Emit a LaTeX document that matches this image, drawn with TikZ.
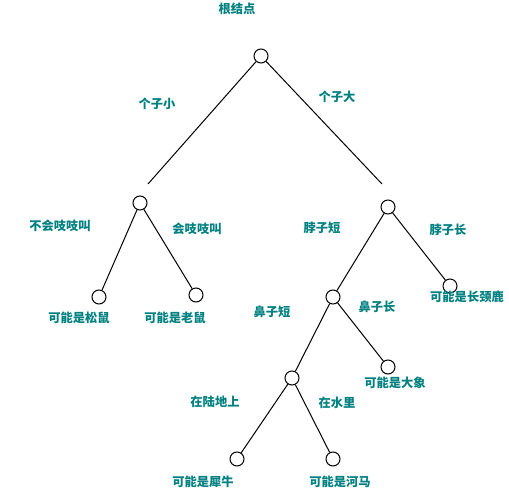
\documentclass[tikz,border=0pt]{standalone}
\usepackage{fontspec}
\newfontfamily\cjk{Noto Sans CJK SC}
\definecolor{labelteal}{RGB}{0,128,128}
\tikzset{every picture/.style={line width=0.75pt}}
\tikzset{
dnode/.style={circle,draw,inner sep=0pt,minimum size=10.5pt,line width=0.75pt},
lbl/.style={inner sep=0.75pt,color=labelteal,font=\cjk\bfseries\fontsize{9.2pt}{11pt}\selectfont}}

\begin{document}
\begin{tikzpicture}[x=0.75pt,y=0.75pt,yscale=-1,xscale=1]
\useasboundingbox (0,0) rectangle (509,498);

%Shape: Circle
\draw (261,56) node [dnode] (root) {};
\draw (140,203) node [dnode] (small) {};
\draw (388,207) node [dnode] (big) {};
\draw (99,297) node [dnode] (squirrel) {};
\draw (196,295) node [dnode] (mouse) {};
\draw (333,297) node [dnode] (shortneck) {};
\draw (450,286) node [dnode] (giraffe) {};
\draw (388,367) node [dnode] (elephant) {};
\draw (292,378) node [dnode] (shortnose) {};
\draw (237,459) node [dnode] (rhino) {};
\draw (333,459) node [dnode] (hippo) {};
\coordinate (endsmall) at (148,184);
\coordinate (endbig) at (382,184);

%Straight Lines
\draw (root) -- (endsmall);
\draw (root) -- (endbig);
\draw (small) -- (squirrel);
\draw (small) -- (mouse);
\draw (big) -- (shortneck);
\draw (big) -- (giraffe);
\draw (shortneck) -- (shortnose);
\draw (shortneck) -- (elephant);
\draw (shortnose) -- (rhino);
\draw (shortnose) -- (hippo);

% Text Node
\draw (237,9) node [lbl] (troot) {根结点};
% Text Node
\draw (157,104) node [lbl] (tsmall) {个子小};
% Text Node
\draw (337,97) node [lbl] (tbig) {个子大};
% Text Node
\draw (60,226) node [lbl] (tnosq) {不会吱吱叫};
% Text Node
\draw (197,229) node [lbl] (tsq) {会吱吱叫};
% Text Node
\draw (79,318) node [lbl] (tsquirrel) {可能是松鼠};
% Text Node
\draw (175,318) node [lbl] (tmouse) {可能是老鼠};
% Text Node
\draw (322,228) node [lbl] (tshortneck) {脖子短};
% Text Node
\draw (448,230) node [lbl] (tlongneck) {脖子长};
% Text Node
\draw (467,297) node [lbl] (tgiraffe) {可能是长颈鹿};
% Text Node
\draw (272,312) node [lbl] (tshortnose) {鼻子短};
% Text Node
\draw (377,307) node [lbl] (tlongnose) {鼻子长};
% Text Node
\draw (395,383) node [lbl] (telephant) {可能是大象};
% Text Node
\draw (215,402) node [lbl] (tland) {在陆地上};
% Text Node
\draw (337,403) node [lbl] (twater) {在水里};
% Text Node
\draw (203,482) node [lbl] (trhino) {可能是犀牛};
% Text Node
\draw (340,482) node [lbl] (thippo) {可能是河马};

\end{tikzpicture}
\end{document}
